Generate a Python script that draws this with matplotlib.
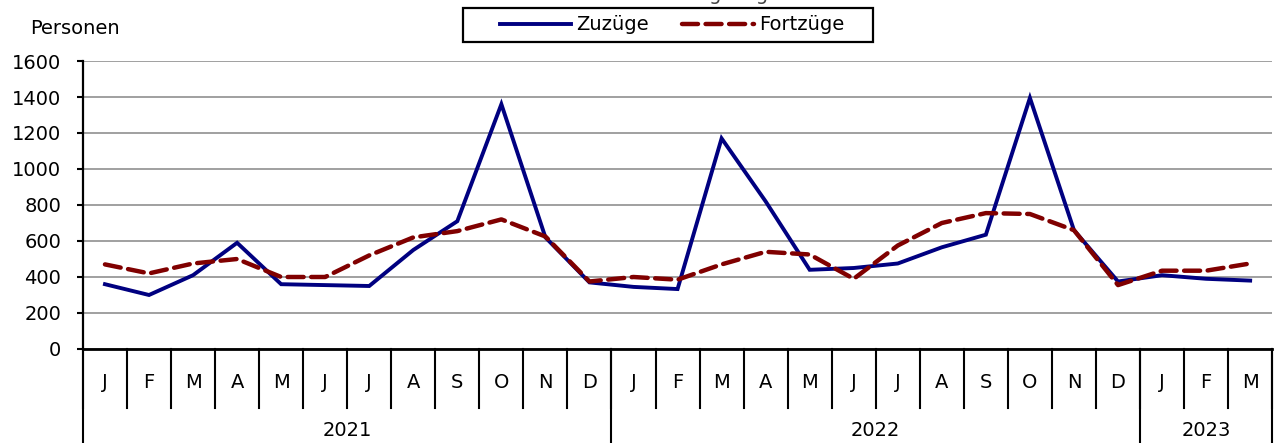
import numpy as np
import matplotlib
matplotlib.use("Agg")
import matplotlib.pyplot as plt
from matplotlib.patches import Rectangle

# ── data ──────────────────────────────────────────────
MONTHS = ["J", "F", "M", "A", "M", "J", "J", "A", "S", "O", "N", "D",
          "J", "F", "M", "A", "M", "J", "J", "A", "S", "O", "N", "D",
          "J", "F", "M"]
YEARS = ["2021", "2022", "2023"]
MONTHS_PER_YEAR = [12, 12, 3]

zuzuege = [360, 300, 410, 590, 360, 355, 350, 550, 710, 1360, 620, 370,
           345, 333, 1170, 820, 440, 450, 475, 565, 635, 1395, 660, 375,
           410, 390, 380]
fortzuege = [470, 420, 475, 500, 400, 400, 520, 620, 655, 720, 625, 375,
             400, 385, 470, 540, 525, 390, 575, 700, 755, 750, 660, 355,
             435, 435, 475]

plt.rcParams["font.family"] = ["DejaVu Sans"]

fig = plt.figure(figsize=(12.76, 4.43), dpi=100)
ax = fig.add_axes([0.065, 0.2122, 0.9320, 0.6501])

x = np.arange(len(MONTHS))
ax.plot(x, zuzuege, color="#000080", lw=2.8, label="Zuzüge",
        solid_joinstyle="miter")
ax.plot(x, fortzuege, color="#800000", lw=3.2, ls=(0, (3.6, 1.7)),
        label="Fortzüge", dash_capstyle="round")

ax.set_xlim(-0.5, len(MONTHS) - 0.5)
ax.set_ylim(0, 1600)
ax.set_yticks(range(0, 1601, 200))
ax.grid(axis="y", color="#999999", lw=1.3)
ax.set_axisbelow(True)
ax.tick_params(axis="y", labelsize=14, length=4.5, width=1.5, direction="out",
               pad=11)
ax.set_xticks([])
for s in ("top", "right"):
    ax.spines[s].set_visible(False)
ax.spines["left"].set_linewidth(1.6)
ax.spines["bottom"].set_linewidth(2.0)

# ── category table below the axis ─────────────────────
tr = ax.get_xaxis_transform()
month_bottom = -0.205   # axes fraction
year_bottom = -0.33
for i in range(len(MONTHS) + 1):
    xb = i - 0.5
    ax.plot([xb, xb], [0, month_bottom], transform=tr, color="black",
            lw=1.5, clip_on=False)
for i, m in enumerate(MONTHS):
    ax.text(i, -0.118, m, transform=tr, ha="center", va="center",
            fontsize=14)
start = 0
bounds = [-0.5]
for yr, n in zip(YEARS, MONTHS_PER_YEAR):
    ax.text(start + (n - 1) / 2, -0.282, yr, transform=tr, ha="center",
            va="center", fontsize=14)
    start += n
    bounds.append(start - 0.5)
for xb in bounds:
    ax.plot([xb, xb], [0, year_bottom], transform=tr, color="black",
            lw=1.5, clip_on=False)

fig.text(0.024, 0.935, "Personen", fontsize=14, ha="left", va="center")
# title line, cut off at the top edge as in the source image
fig.text(0.52, 1.013, "aus dem Ausland gezogen", fontsize=14,
         ha="center", va="center", color="#444444")

# legend with a hand-placed frame
fig.patches.append(Rectangle((0.3629, 0.9052), 0.3213, 0.0767,
                             transform=fig.transFigure, fill=False,
                             edgecolor="black", lw=1.6))
fig.legend(loc="center", bbox_to_anchor=(0.5265, 0.9436), ncol=2,
           fontsize=14, frameon=False, handlelength=3.7, handletextpad=0.25,
           columnspacing=1.7, borderpad=0.0)

fig.savefig("out.png", dpi=100)
